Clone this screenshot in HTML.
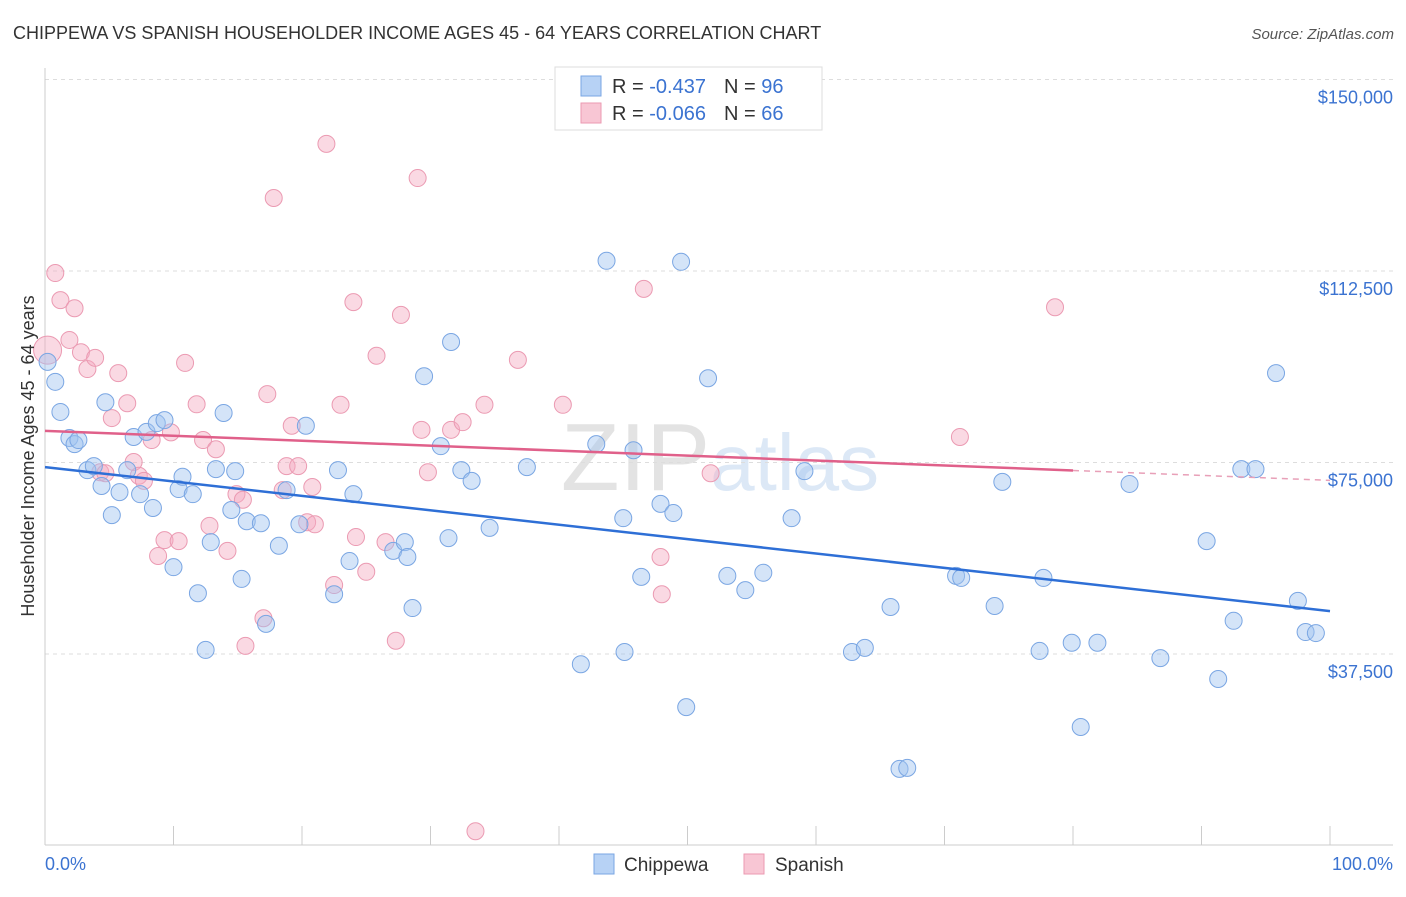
<!DOCTYPE html>
<html><head><meta charset="utf-8"><style>
body{margin:0;background:#fff;font-family:"Liberation Sans",sans-serif}
svg text{font-family:"Liberation Sans",sans-serif}
</style></head><body>
<svg id="chart" width="1406" height="892" xmlns="http://www.w3.org/2000/svg">
<text x="13" y="39" font-size="18" fill="#333">CHIPPEWA VS SPANISH HOUSEHOLDER INCOME AGES 45 - 64 YEARS CORRELATION CHART</text>
<text x="1394" y="39" font-size="15" fill="#555" text-anchor="end" font-style="italic">Source: ZipAtlas.com</text>
<text x="720" y="490" font-size="96" fill="#e3e3e3" text-anchor="middle" font-family="Liberation Serif">ZIP<tspan fill="#dce8f6" font-family="Liberation Sans" font-size="80">atlas</tspan></text>
<g id="grid"></g>
<g id="axes"></g>
<g id="pts"></g>
<g id="trends"></g>
<text transform="translate(34,456) rotate(-90)" font-size="18" fill="#333" text-anchor="middle">Householder Income Ages 45 - 64 years</text>
<text x="45" y="870" font-size="18" fill="#3b73d1">0.0%</text>
<text x="1393" y="870" font-size="18" fill="#3b73d1" text-anchor="end">100.0%</text>
<g>
<rect x="555" y="67" width="267" height="63" fill="#fff" stroke="#ddd"/>
<rect x="581" y="76" width="20" height="20" fill="#b7d2f5" stroke="#7aa6e3"/>
<rect x="581" y="103" width="20" height="20" fill="#f8c6d4" stroke="#eb9ab2"/>
<text x="612" y="93" font-size="20" fill="#333">R = <tspan fill="#3b73d1">-0.437</tspan><tspan dx="18">N = </tspan><tspan fill="#3b73d1">96</tspan></text>
<text x="612" y="120" font-size="20" fill="#333">R = <tspan fill="#3b73d1">-0.066</tspan><tspan dx="18">N = </tspan><tspan fill="#3b73d1">66</tspan></text>
</g>
<g>
<rect x="594" y="854" width="20" height="20" fill="#b7d2f5" stroke="#7aa6e3"/>
<text x="624" y="871" font-size="19" fill="#333">Chippewa</text>
<rect x="744" y="854" width="20" height="20" fill="#f8c6d4" stroke="#eb9ab2"/>
<text x="775" y="871" font-size="19" fill="#333">Spanish</text>
</g>
</svg>
<script>
const yTicks=[37500,75000,112500,150000];
const yTickLabels=["$37,500","$75,000","$112,500","$150,000"];
const xTicks=[0,10,20,30,40,50,60,70,80,90,100];
const chippewaX=[0.2,0.8,1.2,1.9,2.3,2.6,3.3,3.8,4.4,4.7,5.2,5.8,6.4,6.9,7.4,7.9,8.4,8.7,9.3,10.0,10.4,10.7,11.5,11.9,12.5,12.9,13.3,13.9,14.5,14.8,15.3,15.7,16.8,17.2,18.2,18.8,19.8,20.3,22.5,22.8,23.7,24.0,27.1,28.0,28.2,28.6,29.5,30.8,31.4,31.6,32.4,33.2,34.6,37.5,41.7,42.9,43.7,45.0,45.1,45.8,46.4,47.9,48.9,49.5,49.9,51.6,53.1,54.5,55.9,58.1,59.1,62.8,63.8,65.8,66.5,67.1,70.9,71.3,73.9,74.5,77.4,77.7,79.9,80.6,81.9,84.4,86.8,90.4,91.3,92.5,93.1,94.2,95.8,97.5,98.1,98.9];
const chippewaY=[94.7,90.8,84.9,79.8,78.6,79.4,73.5,74.3,70.4,86.8,64.7,69.2,73.5,80.0,68.8,81.0,66.1,82.7,83.3,54.5,69.8,72.2,68.8,49.4,38.3,59.4,73.7,84.7,65.7,73.3,52.2,63.5,63.1,43.4,58.7,69.6,62.9,82.2,49.2,73.5,55.7,68.8,57.7,59.4,56.5,46.5,91.9,78.2,60.2,98.6,73.5,71.4,62.2,74.1,35.5,78.6,114.5,64.1,37.9,77.4,52.6,66.9,65.1,114.3,27.1,91.5,52.8,50.0,53.4,64.1,73.3,37.9,38.7,46.7,15.0,15.2,52.8,52.4,46.9,71.2,38.1,52.4,39.7,23.2,39.7,70.8,36.7,59.6,32.6,44.0,73.7,73.7,92.5,47.9,41.8,41.6];
const spanishX=[0.2,0.8,1.2,1.9,2.3,2.8,3.3,3.9,4.3,4.7,5.2,5.7,6.4,6.9,7.3,7.7,8.3,8.8,9.3,9.8,10.4,10.9,11.8,12.3,12.8,13.3,14.2,14.9,15.4,15.6,17.0,17.3,17.8,18.5,19.2,18.8,19.7,20.4,20.8,21.0,21.9,22.5,23.0,24.0,24.2,25.0,25.8,26.5,27.7,27.3,29.0,29.3,29.8,31.6,32.5,33.5,34.2,36.8,40.3,46.6,47.9,48.0,51.8,71.2,78.6];
const spanishY=[97.0,112.1,106.8,99.0,105.2,96.6,93.3,95.5,73.1,72.9,83.7,92.5,86.6,75.1,72.4,71.4,79.4,56.7,59.8,80.9,59.6,94.5,86.4,79.4,62.6,77.6,57.7,68.8,67.7,39.1,44.5,88.4,126.8,69.6,82.2,74.3,74.3,63.3,70.2,62.9,137.4,51.0,86.3,106.4,60.4,53.6,95.9,59.4,103.9,40.1,130.7,81.4,73.1,81.4,82.9,2.8,86.3,95.1,86.3,109.0,56.5,49.2,72.9,80.0,105.4];
const chippewaTrend=[74.1,45.9];   // value at 0% and 100%
const spanishTrend=[81.2,71.5];    // value at 0% and 100%
const spanishSolidEnd=[80];        // % where solid line ends

const NS="http://www.w3.org/2000/svg";
const X0=45,X1=1330,YB=845.5;
const xs=v=>X0+(v/100)*(X1-X0);
const ys=v=>YB-(v/37500)*191.5;
function mk(tag,attrs,parent){const e=document.createElementNS(NS,tag);for(const k in attrs)e.setAttribute(k,attrs[k]);parent.appendChild(e);return e;}
const grid=document.getElementById('grid'),axes=document.getElementById('axes');
yTicks.forEach((t,i)=>{
  const g=mk('line',{x1:X0,x2:1393,y1:ys(t),y2:ys(t),stroke:'#ddd','stroke-dasharray':'4,4'},grid);
  
  
  const l=mk('text',{x:1393,y:ys(t)+24,'font-size':18,fill:'#3b73d1','text-anchor':'end'},axes);
  l.textContent=yTickLabels[i];
  
  
});
const tg=mk('line',{x1:X0,x2:1393,y1:ys(150000)-0,y2:ys(150000),stroke:'#ddd','stroke-dasharray':'4,4'},grid);


const ya=mk('line',{x1:X0,x2:X0,y1:68,y2:845,stroke:'#ccc'},axes);


const xa=mk('line',{x1:X0,x2:1393,y1:845,y2:845,stroke:'#ccc'},axes);


xTicks.forEach(t=>{
  const e=mk('line',{x1:xs(t),x2:xs(t),y1:826,y2:845,stroke:'#ccc'},axes);
  
  
});
const pts=document.getElementById('pts');
spanishX.forEach((x,i)=>{
  const c=mk('circle',{cx:xs(x),cy:ys(spanishY[i]*1000),r:i==0?14:8.5,fill:'rgba(244,170,192,0.45)',stroke:'#eb9ab2','stroke-width':1},pts);
  
  
});
chippewaX.forEach((x,i)=>{
  const c=mk('circle',{cx:xs(x),cy:ys(chippewaY[i]*1000),r:8.5,fill:'rgba(160,196,240,0.45)',stroke:'#7aa6e3','stroke-width':1},pts);
  
  
});
const tr=document.getElementById('trends');
const pv=p=>spanishTrend[0]+(spanishTrend[1]-spanishTrend[0])*p/100;
const b=mk('line',{x1:xs(0),y1:ys(chippewaTrend[0]*1000),x2:xs(100),y2:ys(chippewaTrend[1]*1000),stroke:'#2e6fd6','stroke-width':2.5},tr);


const s=mk('line',{x1:xs(0),y1:ys(pv(0)*1000),x2:xs(spanishSolidEnd[0]),y2:ys(pv(spanishSolidEnd[0])*1000),stroke:'#e0608a','stroke-width':2.5},tr);


const sd=mk('line',{x1:xs(spanishSolidEnd[0]),y1:ys(pv(spanishSolidEnd[0])*1000),x2:xs(100),y2:ys(pv(100)*1000),stroke:'#e8a0b8','stroke-width':1.5,'stroke-dasharray':'6,5'},tr);


</script>
</body></html>
